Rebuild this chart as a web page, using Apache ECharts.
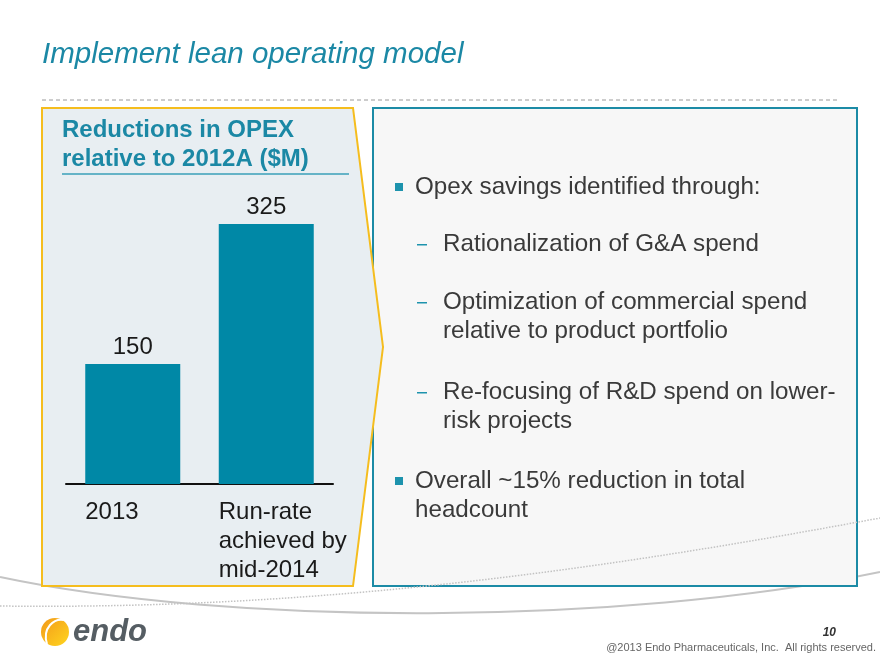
<!DOCTYPE html>
<html><head><meta charset="utf-8">
<script src="https://cdn.jsdelivr.net/npm/echarts@6/dist/echarts.min.js"></script>
<style>html,body{margin:0;padding:0;background:#fff}#c{width:880px;height:660px}</style>
</head><body><div id="c"></div>
<script>
const categories = ['2013', 'Run-rate\nachieved by\nmid-2014'];
const values = [150, 325];
const title = 'Implement lean operating model';
const panelTitle = ['Reductions in OPEX', 'relative to 2012A ($M)'];
const bullets = [
  {type: 'b', lines: ['Opex savings identified through:'], y: 187},
  {type: 'd', lines: ['Rationalization of G&A spend'], y: 244},
  {type: 'd', lines: ['Optimization of commercial spend', 'relative to product portfolio'], y: 302},
  {type: 'd', lines: ['Re-focusing of R&D spend on lower-', 'risk projects'], y: 392},
  {type: 'b', lines: ['Overall ~15% reduction in total', 'headcount'], y: 481}
];
const footerPage = '10';
const footerCopy = '@2013 Endo Pharmaceuticals, Inc.  All rights reserved.';

const FONT = 'Liberation Sans, Arial, sans-serif';
const TEAL = '#1b88a5';
const TEXT = '#3a3a3a';
const chart = echarts.init(document.getElementById('c'), null, {renderer: 'canvas'});

const g = [];
// footer swooshes
g.push({type: 'bezierCurve', z: 1, shape: {x1: 0, y1: 577, x2: 880, y2: 572, cpx1: 230, cpy1: 626, cpx2: 620, cpy2: 626}, style: {stroke: '#c4c4c4', lineWidth: 2, fill: null}});
// right panel
g.push({type: 'rect', z: 2, shape: {x: 373, y: 108, width: 484, height: 478}, style: {fill: '#f7f7f7', stroke: '#1c8ba6', lineWidth: 2}});
g.push({type: 'bezierCurve', z: 3, shape: {x1: 0, y1: 606, x2: 880, y2: 518, cpx1: 320, cpy1: 610, cpx2: 600, cpy2: 570}, style: {stroke: '#c2c2c2', lineWidth: 1.5, lineDash: [1.5, 1.5], fill: null}});
// left panel (arrow)
g.push({type: 'polygon', z: 4, shape: {points: [[42, 108], [353, 108], [383, 347], [353, 586], [42, 586]]}, style: {fill: '#e8eef2', stroke: '#f5bd1e', lineWidth: 2}});
// dashed separator
g.push({type: 'line', z: 2, shape: {x1: 42, y1: 100, x2: 838, y2: 100}, style: {stroke: '#9a9a9a', lineWidth: 1, lineDash: [4, 3]}});
// title
g.push({type: 'text', z: 5, style: {text: title, x: 42, y: 55, font: 'italic 29.5px ' + FONT, fill: TEAL, textVerticalAlign: 'middle'}});
// panel title
panelTitle.forEach((t, i) => g.push({type: 'text', z: 5, style: {text: t, x: 62, y: 130 + i * 29, font: 'bold 24px ' + FONT, fill: TEAL, textVerticalAlign: 'middle'}}));
g.push({type: 'line', z: 5, shape: {x1: 62, y1: 174, x2: 349, y2: 174}, style: {stroke: '#3a9fb8', lineWidth: 1.5}});
// bullets
bullets.forEach(b => {
  if (b.type === 'b') {
    g.push({type: 'rect', z: 5, shape: {x: 395, y: b.y - 4, width: 8, height: 8}, style: {fill: '#1d93ad'}});
    b.lines.forEach((t, i) => g.push({type: 'text', z: 5, style: {text: t, x: 415, y: b.y + i * 29, font: '24.2px ' + FONT, fill: TEXT, textVerticalAlign: 'middle'}}));
  } else {
    g.push({type: 'rect', z: 5, shape: {x: 417, y: b.y, width: 10, height: 1.5}, style: {fill: '#1d93ad'}});
    b.lines.forEach((t, i) => g.push({type: 'text', z: 5, style: {text: t, x: 443, y: b.y + i * 29, font: '24.2px ' + FONT, fill: TEXT, textVerticalAlign: 'middle'}}));
  }
});
// logo
g.push({type: 'circle', z: 5, shape: {cx: 55, cy: 632, r: 14}, style: {fill: new echarts.graphic.LinearGradient(0, 0, 1, 1, [{offset: 0, color: '#f39a1a'}, {offset: 1, color: '#ffd51f'}])}});
g.push({type: 'bezierCurve', z: 6, shape: {x1: 47, y1: 644, x2: 64, y2: 620, cpx1: 42, cpy1: 628, cpx2: 54, cpy2: 618}, style: {stroke: '#fff', lineWidth: 2, fill: null}});
g.push({type: 'text', z: 5, style: {text: 'endo', x: 73, y: 632, font: 'italic bold 31px ' + FONT, fill: '#555d63', textVerticalAlign: 'middle'}});
// footer text
g.push({type: 'text', z: 5, style: {text: footerPage, x: 836, y: 633, font: 'italic bold 12px ' + FONT, fill: '#333', textAlign: 'right', textVerticalAlign: 'middle'}});
g.push({type: 'text', z: 5, style: {text: footerCopy, x: 876, y: 648, font: '11px ' + FONT, fill: '#666', textAlign: 'right', textVerticalAlign: 'middle'}});

chart.setOption({
  animation: false,
  backgroundColor: '#ffffff',
  graphic: {elements: g},
  grid: {left: 66, right: 547, top: 204, bottom: 176, containLabel: false},
  xAxis: {
    type: 'category', data: categories, z: 10,
    axisLine: {lineStyle: {color: '#111', width: 2}},
    axisTick: {show: false},
    axisLabel: {
      margin: 14, width: 95, overflow: 'none', align: 'center', interval: 0,
      formatter: v => v.split('\n').map(s => '{a|' + s + '}').join('\n'),
      rich: {a: {align: 'left', fontSize: 24, fontFamily: FONT, color: '#1a1a1a', lineHeight: 29}}
    }
  },
  yAxis: {type: 'value', min: 0, max: 350, show: false, splitLine: {show: false}},
  series: [{
    type: 'bar', data: values, barWidth: 95, z: 10,
    itemStyle: {color: '#0088a6'},
    label: {show: true, position: 'top', distance: 5, fontSize: 24, fontFamily: FONT, color: '#1a1a1a'}
  }]
});
</script></body></html>
